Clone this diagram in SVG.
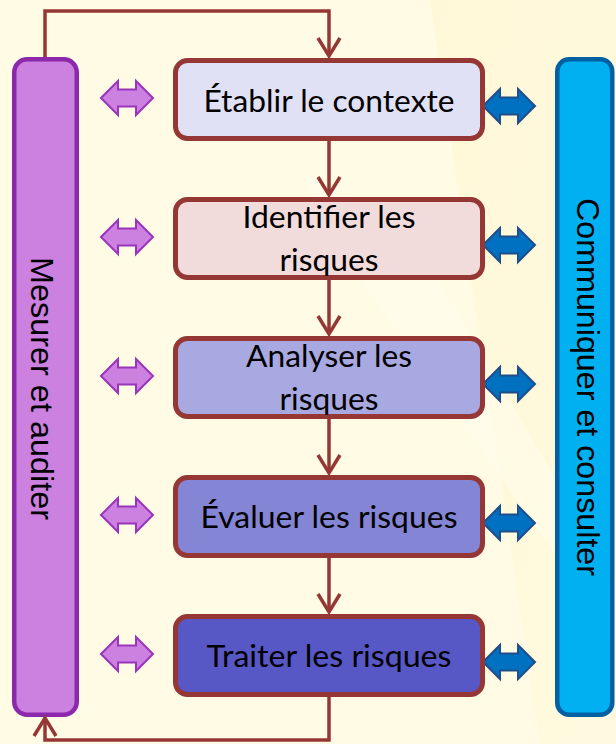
<svg xmlns="http://www.w3.org/2000/svg" xmlns:xlink="http://www.w3.org/1999/xlink" width="616" height="744" viewBox="0 0 616 744">
  <defs>
    <style>
      .conn { fill: none; stroke: #953735; stroke-width: 3.5; stroke-linejoin: miter; }
      .head { fill: none; stroke: #953735; stroke-width: 3.5; stroke-linecap: butt; stroke-linejoin: miter; }
      .box { stroke: #953735; stroke-width: 5; }
      .btxt { font-family: Lato, "Open Sans", "Liberation Sans", sans-serif; font-size: 31px; fill: #000; text-anchor: middle; }
      .vtxt { font-family: "Liberation Sans", Arial, sans-serif; font-size: 32px; fill: #000; text-anchor: middle; }
      .parr { fill: #CC80E0; stroke: #9A34BC; stroke-width: 2; stroke-linejoin: miter; }
      .barr { fill: #0070C0; stroke: #1F4E8A; stroke-width: 2; stroke-linejoin: miter; }
    </style>
    <path id="dbl" d="M-26,0 L-9,-17 L-9,-8.5 L9,-8.5 L9,-17 L26,0 L9,17 L9,8.5 L-9,8.5 L-9,17 Z"/>
    <linearGradient id="bgY" x1="0" y1="0" x2="1" y2="1">
      <stop offset="0" stop-color="#FFF4C8" stop-opacity="0.8"/>
      <stop offset="1" stop-color="#FFF4C8" stop-opacity="0.3"/>
    </linearGradient>
  </defs>

  <!-- background -->
  <rect x="0" y="0" width="616" height="744" fill="#FFFBE4"/>
  <polygon points="430,0 616,0 616,744 540,744" fill="url(#bgY)" opacity="0.55"/>
  <polygon points="300,170 340,250 616,640 616,580 420,250" fill="#FFFDF0" opacity="0.45"/>

  <!-- side bars -->
  <g id="measure">
    <rect x="14.25" y="59.25" width="62.5" height="655.5" rx="13" fill="#CC80E0" stroke="#8C28AC" stroke-width="4.5"/>
    <text class="vtxt" transform="translate(31,388.5) rotate(90)" x="0" y="0" textLength="263" lengthAdjust="spacingAndGlyphs">Mesurer et auditer</text>
  </g>
  <g id="communicate">
    <rect x="557.25" y="59.25" width="55" height="655.5" rx="12" fill="#00B0F0" stroke="#0060A2" stroke-width="4.5"/>
    <text class="vtxt" transform="translate(577,387) rotate(90)" x="0" y="0" textLength="378" lengthAdjust="spacingAndGlyphs">Communiquer et consulter</text>
  </g>

  <!-- connectors -->
  <g id="connectors">
    <polyline class="conn" points="45,57 45,11 329,11 329,56"/>
    <polyline class="head" points="318,38 329,56 340,38"/>
    <line class="conn" x1="329" y1="140" x2="329" y2="195"/>
    <polyline class="head" points="318,177 329,195 340,177"/>
    <line class="conn" x1="329" y1="279" x2="329" y2="334"/>
    <polyline class="head" points="318,316 329,334 340,316"/>
    <line class="conn" x1="329" y1="418" x2="329" y2="473"/>
    <polyline class="head" points="318,455 329,473 340,455"/>
    <line class="conn" x1="329" y1="557" x2="329" y2="612"/>
    <polyline class="head" points="318,594 329,612 340,594"/>
    <polyline class="conn" points="329,697 329,740 45,740 45,718"/>
    <polyline class="head" points="34,736 45,718 56,736"/>
  </g>

  <!-- exchange arrows -->
  <g id="exchange-left">
    <use xlink:href="#dbl" href="#dbl" class="parr" transform="translate(127,98)"/>
    <use xlink:href="#dbl" href="#dbl" class="parr" transform="translate(127,237)"/>
    <use xlink:href="#dbl" href="#dbl" class="parr" transform="translate(127,376)"/>
    <use xlink:href="#dbl" href="#dbl" class="parr" transform="translate(127,515)"/>
    <use xlink:href="#dbl" href="#dbl" class="parr" transform="translate(127,654)"/>
  </g>
  <g id="exchange-right">
    <use xlink:href="#dbl" href="#dbl" class="barr" transform="translate(509,106)"/>
    <use xlink:href="#dbl" href="#dbl" class="barr" transform="translate(509,245)"/>
    <use xlink:href="#dbl" href="#dbl" class="barr" transform="translate(509,384)"/>
    <use xlink:href="#dbl" href="#dbl" class="barr" transform="translate(509,523)"/>
    <use xlink:href="#dbl" href="#dbl" class="barr" transform="translate(509,662)"/>
  </g>

  <!-- process boxes -->
  <g id="etablir">
    <rect class="box" x="175.5" y="60.5" width="307" height="78" rx="12" fill="#E1E1F5"/>
    <text class="btxt" x="329" y="112" textLength="251" lengthAdjust="spacingAndGlyphs">Établir le contexte</text>
  </g>
  <g id="identifier">
    <rect class="box" x="175.5" y="199.5" width="307" height="78" rx="12" fill="#F2DCDB"/>
    <text class="btxt" x="329" y="228" textLength="173" lengthAdjust="spacingAndGlyphs">Identifier les</text>
    <text class="btxt" x="329" y="271" textLength="99" lengthAdjust="spacingAndGlyphs">risques</text>
  </g>
  <g id="analyser">
    <rect class="box" x="175.5" y="338.5" width="307" height="78" rx="12" fill="#A9A9E2"/>
    <text class="btxt" x="329" y="367" textLength="166" lengthAdjust="spacingAndGlyphs">Analyser les</text>
    <text class="btxt" x="329" y="410" textLength="99" lengthAdjust="spacingAndGlyphs">risques</text>
  </g>
  <g id="evaluer">
    <rect class="box" x="175.5" y="477.5" width="307" height="78" rx="12" fill="#8585D6"/>
    <text class="btxt" x="329" y="528" textLength="257" lengthAdjust="spacingAndGlyphs">Évaluer les risques</text>
  </g>
  <g id="traiter">
    <rect class="box" x="175.5" y="616.5" width="307" height="78" rx="12" fill="#5757C6"/>
    <text class="btxt" x="329" y="667" textLength="245" lengthAdjust="spacingAndGlyphs">Traiter les risques</text>
  </g>
</svg>
